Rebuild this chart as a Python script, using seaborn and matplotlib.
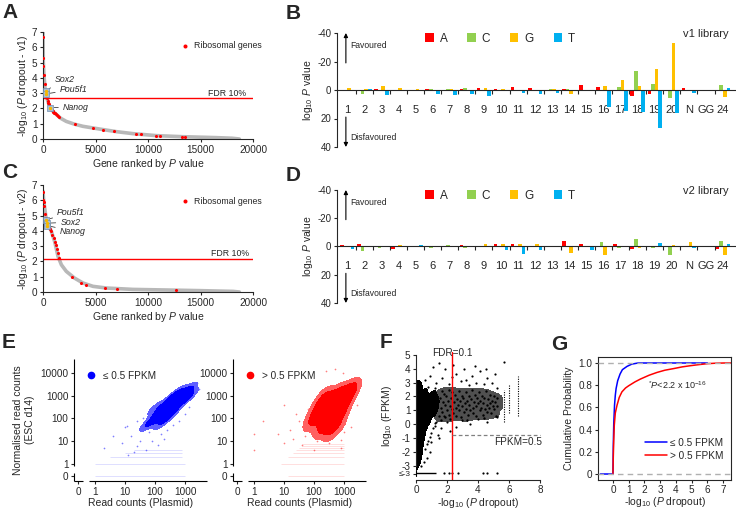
import numpy as np
import pandas as pd
import matplotlib
matplotlib.use('Agg')
import matplotlib.pyplot as plt
from matplotlib.lines import Line2D
from matplotlib.colors import ListedColormap
import seaborn as sns

sns.set_style('ticks')
plt.rcParams['font.family'] = ['Liberation Sans', 'DejaVu Sans']
plt.rcParams.update({
    'axes.unicode_minus': False,
    'mathtext.fontset': 'custom',
    'mathtext.rm': 'Liberation Sans',
    'mathtext.it': 'Liberation Sans:italic',
    'mathtext.bf': 'Liberation Sans:bold',
    'font.size': 7.5,
    'axes.linewidth': 0.8,
    'xtick.major.width': 0.8, 'ytick.major.width': 0.8,
    'xtick.major.size': 2.5, 'ytick.major.size': 2.5,
    'xtick.labelsize': 7.2, 'ytick.labelsize': 7.2,
    'xtick.major.pad': 1.5, 'ytick.major.pad': 1.5,
    'axes.labelsize': 7.5, 'axes.labelpad': 1.5,
})

# ---------------- data ----------------
# A / C: -log10 P dropout along gene rank
rank_v1 = [0, 30, 100, 220, 400, 630, 900, 1270, 1700, 2220, 3000, 3800, 5400, 7000, 8570, 10800, 13300, 16500, 18000, 18700]
score_v1 = [7.0, 5.0, 4.1, 3.1, 2.6, 2.13, 1.85, 1.6, 1.35, 1.15, 0.97, 0.83, 0.65, 0.48, 0.35, 0.22, 0.15, 0.09, 0.05, 0.0]
ribo_rank_v1 = [5, 10, 40, 80, 150, 260, 330, 380, 450, 520, 560, 600, 680, 720, 780, 850, 920, 980, 1050, 1130,
                1200, 1300, 1400, 1500, 3000, 4760, 5700, 6800, 8900, 9360, 10800, 11100, 13200, 13500]
ribo_score_v1 = [6.67, 5.3, 4.75, 4.2, 3.6, 3.0, 2.8, 2.65, 2.5, 2.35, 2.3, 2.2, 2.07, 2.03, 1.96, 1.9, 1.83, 1.78, 1.73, 1.68,
                 1.63, 1.58, 1.52, 1.46, 0.97, 0.72, 0.61, 0.5, 0.33, 0.31, 0.22, 0.21, 0.15, 0.15]
genes_v1 = ['Sox2', 'Pou5f1', 'Nanog']
gene_rank_v1 = [250, 290, 680]
gene_score_v1 = [3.15, 2.95, 2.06]
gene_text_v1 = [(1100, 3.9), (1600, 3.25), (1900, 2.05)]
fdr_v1 = 2.66

rank_v2 = [0, 50, 160, 320, 500, 800, 1110, 1430, 1750, 2220, 3000, 3800, 4760, 6030, 8570, 11750, 14900, 18100, 18700]
score_v2 = [6.6, 6.1, 5.5, 4.7, 4.4, 3.96, 3.3, 2.33, 1.78, 1.35, 0.91, 0.59, 0.37, 0.26, 0.17, 0.13, 0.09, 0.04, 0.0]
ribo_rank_v2 = [5, 15, 60, 120, 200, 280, 400, 500, 600, 700, 800, 900, 1000, 1100, 1200, 1300, 1400, 1500,
                2800, 3650, 4100, 5870, 7000, 12700]
ribo_score_v2 = [6.52, 6.0, 5.9, 5.6, 5.1, 4.85, 4.55, 4.4, 4.25, 4.1, 3.96, 3.75, 3.55, 3.3, 3.05, 2.8, 2.55, 2.2,
                 1.0, 0.6, 0.45, 0.28, 0.22, 0.1]
genes_v2 = ['Pou5f1', 'Sox2', 'Nanog']
gene_rank_v2 = [300, 350, 400]
gene_score_v2 = [4.72, 4.5, 4.35]
gene_text_v2 = [(1350, 5.2), (1650, 4.57), (1600, 3.96)]
fdr_v2 = 2.16

# B / D: log10 P per position and base (negative = favoured)
positions = [str(i) for i in range(1, 21)] + ['N', 'GG', '24']
bases = ['A', 'C', 'G', 'T']
base_colors = ['#ff0000', '#92d050', '#ffc000', '#00b0f0']
v1_A = [0, 0, -0.5, 0, 0, -0.5, 0, -0.5, -1.5, -0.5, -2, -1.5, 0, -1, -3.5, -2, 0.7, 4.2, 2.8, 0, -1.2, 0, 0.5]
v1_C = [0, 2.5, 0, 0, 0, -0.5, -1, -1.5, 0, 1, 0, 0, -0.5, -0.5, 0, 0, -2.4, -13.4, -4.2, 5.4, 0, 0, -3.5]
v1_G = [-1.5, -0.5, -3, -1.5, -0.5, 0, -1, 0, -1.5, -0.5, 0, 0, -0.5, 2.5, 0, -2.8, -7, -2.8, -14.8, -33, 0, 0, 5.2]
v1_T = [1, -0.5, 3.5, 1, 1, 3, 3.5, 2.5, 4.5, 0, 2, 2.5, 2, 0, 1, 12, 15, 15.3, 27, 16, 2.4, 0, -1.2]
v2_A = [-1, -1.5, 0, 2, 0.5, -0.5, 0.5, -1, 0.5, -1.5, -2, 0, 0, -3.8, -2, -0.5, -1.5, 1.6, 0, -0.7, 0.5, 0, 1.5]
v2_C = [0, 3, 1, 0, 0, 1, -1, 1, 0.5, 0.5, 0, 0, 0, 0, 0, -3, 1, -5.4, 1, 6.3, 0, 0, -4]
v2_G = [-0.5, 0, 0, -1, 0, 0, 0, 0, -2, -1.5, -2, -2, 0, 4.5, 0, 6, 0, 1, 0, -1.4, -3, 0, 6]
v2_T = [2, 0, 0, 0, -1, 0, 0.5, 0, 0, 2.5, 5.2, 2.5, 0.5, 0, 2.5, 0, -0.5, 0, -2.6, -0.5, 1, 0, -1.5]

# E: log10 read counts, plasmid (x) vs ESC d14 (y)
zero_pos = -0.55  # where a count of 0 sits on the broken log axes
blue_core_x = [1.75, 1.9, 2.0, 2.1, 2.15, 2.25, 2.3, 2.35, 2.4, 2.45, 2.5, 2.55, 2.6, 2.6, 2.65, 2.7, 2.75, 2.8,
               2.85, 2.9, 2.95, 3.0, 3.05, 3.1, 3.15, 2.2, 2.4, 2.5, 2.0, 2.7]
blue_core_y = [1.75, 1.85, 2.15, 1.95, 2.35, 2.1, 2.5, 2.25, 2.7, 2.4, 2.85, 2.55, 2.3, 2.75, 2.95, 2.6, 2.85, 3.05,
               2.7, 2.95, 3.15, 2.85, 3.1, 3.25, 3.0, 1.8, 2.0, 2.2, 2.45, 3.1]
blue_sparse_x = [1.08, 1.41, 1.2, 1.5, 1.6, 1.3, 0.9, 1.7, 1.9, 2.2, 2.4, 2.8, 3.0, 3.3, 3.39, 3.25, 1.0, 1.6, 1.8, 2.1,
                 0.6, 1.1, 2.6, 3.1, 1.4, 2.0, 0.3, 1.9, 2.3, 3.45]
blue_sparse_y = [1.64, 0.76, 1.2, 1.0, 1.5, 0.5, 0.9, 0.6, 1.0, 1.3, 1.5, 1.9, 2.2, 3.5, 3.56, 3.35, 1.6, 2.0, 1.4, 0.8,
                 1.2, 0.4, 1.7, 2.5, 1.9, 1.7, 0.7, 2.3, 1.1, 3.3]
blue_row_count = [0, 1, 2, 3, 4]
blue_row_lo = [0.0, 0.0, 0.5, 1.0, 1.3]
blue_row_hi = [3.0, 3.0, 2.9, 2.9, 2.9]

red_core_x = [1.88, 2.0, 2.1, 2.2, 2.25, 2.3, 2.4, 2.45, 2.5, 2.55, 2.6, 2.65, 2.7, 2.75, 2.8, 2.85, 2.9, 2.95, 3.0,
              3.05, 3.1, 3.2, 3.3, 2.2, 2.4, 2.6, 2.8, 2.9, 2.54, 2.35]
red_core_y = [1.8, 2.1, 2.5, 1.9, 2.3, 2.7, 2.1, 2.5, 2.9, 1.8, 2.4, 2.7, 3.0, 2.2, 2.6, 2.9, 3.2, 2.5, 2.8, 3.1,
              2.9, 3.2, 3.4, 1.5, 1.6, 1.9, 1.7, 2.2, 1.35, 3.0]
red_sparse_x = [1.2, 1.5, 1.7, 1.9, 2.1, 2.21, 2.87, 3.0, 1.0, 1.3, 1.6, 2.0, 2.5, 2.9, 3.2, 3.35, 2.7, 2.95, 0.8, 1.4,
                1.8, 2.3, 2.6, 3.1, 0.0, 0.0, 0.3, 1.0, 2.4, 3.4]
red_sparse_y = [1.5, 1.9, 1.2, 1.6, 1.0, 1.2, 1.05, 1.4, 0.9, 1.1, 0.8, 0.6, 0.9, 0.7, 1.6, 3.5, 4.2, 4.0, 1.3, 2.2,
                2.4, 2.9, 3.4, 3.6, 1.3, 0.6, 1.9, 2.6, 4.1, 2.6]
red_row_count = [0, 1, 2, 3, 4, 5, 6, 7]
red_row_lo = [1.15, 0.9, 1.15, 1.3, 1.4, 1.5, 1.6, 1.6]
red_row_hi = [2.97, 2.97, 3.0, 2.97, 2.97, 2.97, 2.97, 2.97]

# F: -log10 P dropout vs log10 FPKM
f_dense_x = [0.05, 0.05, 0.05, 0.05, 0.05, 0.05, 0.05, 0.05, 0.05, 0.05, 0.05, 0.05,
             0.25, 0.25, 0.25, 0.25, 0.25, 0.25, 0.25, 0.25, 0.25,
             0.5, 0.6, 0.8, 1.0, 1.2, 1.4, 0.6, 0.9, 1.2, 0.8, 0.4, 0.5, 0.7]
f_dense_y = [-2.8, -2.3, -1.8, -1.3, -0.8, -0.3, 0.2, 0.7, 1.2, 1.7, 2.2, 2.7,
             -2.3, -1.7, -1.1, -0.5, 0.1, 0.7, 1.3, 1.9, 2.5,
             1.0, 1.6, 1.2, 1.8, 1.0, 1.5, 2.2, 0.6, 2.0, 1.4, -1.0, -0.3, 0.3]
f_band_x = [1.5, 1.55, 1.6, 1.65, 1.7, 1.75, 1.8, 1.85, 1.9, 1.95, 2.0, 2.05, 2.1, 2.15, 2.2, 2.25, 2.3, 2.35,
            2.4, 2.45, 2.5, 2.55, 2.6, 2.65, 2.7, 2.75, 2.8, 2.85, 2.9, 2.95, 3.0, 3.05, 3.1, 3.15, 3.2, 3.25,
            3.3, 3.35, 3.4, 3.45, 3.5, 3.55, 3.6, 3.65, 3.7, 3.75, 3.8, 3.85, 3.9, 3.95, 4.0, 4.05, 4.1, 4.15,
            4.2, 4.25, 4.3, 4.35, 4.4, 4.45, 4.5, 4.55, 4.6, 4.65, 4.7, 4.75, 4.8, 4.85, 4.9, 4.95, 5.0, 5.05,
            5.1, 5.15, 5.2, 5.2, 1.6, 2.2, 3.3, 4.4]
f_band_y = [0.6, 1.9, 1.2, 2.4, 0.9, 1.6, 2.2, 0.5, 1.4, 2.0, 1.0, 1.7, 2.5, 0.7, 1.3, 1.9, 1.1, 2.3,
            0.8, 1.6, 2.1, 1.2, 0.6, 1.8, 1.4, 2.4, 1.0, 1.7, 0.5, 2.0, 1.3, 1.9, 0.9, 1.5, 2.3, 1.1,
            1.7, 0.7, 2.0, 1.4, 1.0, 1.8, 2.5, 1.2, 0.8, 1.6, 2.1, 1.3, 0.6, 1.9, 1.5, 2.3, 1.0, 1.7,
            1.2, 2.0, 0.7, 1.5, 1.9, 1.1, 2.4, 1.4, 0.9, 1.8, 1.2, 2.1, 1.5, 0.8, 1.7, 1.3, 2.0, 1.1,
            1.6, 0.6, 1.9, 1.3, 0.3, 0.4, 0.3, 0.45]
f_sparse_x = [0.6, 0.9, 1.1, 1.3, 1.5, 1.7, 1.9, 2.1, 2.4, 2.6, 2.9, 3.1, 3.4, 3.6, 3.9, 4.1, 4.4, 4.6, 4.9, 5.1,
              5.2, 0.8, 1.2, 2.3, 3.2, 4.5, 5.7, 3.8,
              1.2, 1.6, 2.0, 2.6, 3.0, 3.5, 4.0, 4.6, 5.2, 1.4, 1.0, 0.9, 0.7, 1.5, 0.5, 0.3, 2.2, 1.8,
              0.6, 0.8, 1.0, 1.2, 0.7, 0.9, 1.1, 1.3]
f_sparse_y = [3.2, 3.5, 4.1, 3.0, 4.4, 3.3, 4.0, 2.9, 4.3, 3.6, 3.1, 4.0, 2.8, 3.5, 3.0, 3.8, 2.9, 3.3, 3.0, 3.6,
              2.6, 2.7, 2.6, 3.4, 3.2, 4.0, 4.5, 4.2,
              0.1, -0.3, 0.2, -0.2, 0.3, 0.0, 0.4, 0.2, 0.5, -0.8, -1.3, -2.0, -2.4, -1.0, -2.7, -3.0, -0.5, 0.6,
              -1.8, -1.2, -0.6, -0.1, -1.4, -0.9, -0.3, 0.2]
f_col_x = [5.7, 6.0, 6.6]
f_col_lo = [0.2, 0.8, 0.6]
f_col_hi = [2.5, 2.8, 3.5]
f_floor_x = [1.8, 2.1, 2.3, 2.7, 4.3, 4.6, 5.2]
f_floor_end = 1.3
fdr_f = 2.34
fpkm_cut = -0.75

# G: cumulative probability of -log10 P dropout
g_low_x = [-0.8, 0, 0.02, 0.05, 0.1, 0.15, 0.2, 0.3, 0.45, 0.6, 0.9, 1.2, 1.6, 6.0]
g_low_y = [0, 0, 0.25, 0.45, 0.62, 0.71, 0.77, 0.84, 0.9, 0.94, 0.97, 0.99, 1.0, 1.0]
g_high_x = [0, 0.02, 0.05, 0.085, 0.15, 0.26, 0.4, 0.57, 0.8, 1.0, 1.4, 1.74, 2.3, 2.8, 3.3, 3.87, 4.4, 4.94,
            5.5, 6.0, 6.5, 7.06, 7.5]
g_high_y = [0, 0.15, 0.3, 0.44, 0.55, 0.62, 0.69, 0.74, 0.775, 0.795, 0.83, 0.855, 0.89, 0.915, 0.935, 0.95,
            0.965, 0.976, 0.986, 0.994, 0.998, 1.0, 1.0]

# ---------------- layout ----------------
W, H = 736, 509
fig = plt.figure(figsize=(W / 100, H / 100), dpi=100)


def box(l, t, r, b):
    return [l / W, 1 - b / H, (r - l) / W, (b - t) / H]


def dropout_panel(ax, rank, score, rr, rs, genes, grank, gscore, gtext, fdr, fdr_ty, fdr_tx, ylabel, leg_y):
    sns.lineplot(x=rank, y=score, color='#b8b8b8', lw=2.6, ax=ax, estimator=None, sort=False)
    sns.scatterplot(x=rr, y=rs, color='red', s=5, linewidth=0, ax=ax, label='Ribosomal genes', zorder=3)
    ax.axhline(fdr, color='red', lw=1)
    ax.text(fdr_tx, fdr_ty, 'FDR 10%', ha='right', va='center', fontsize=6.3)
    sns.scatterplot(x=grank, y=gscore, marker='s', s=16, color='#a9bfd6', edgecolor='#7190b0',
                    linewidth=0.5, ax=ax, legend=False, zorder=4)
    sns.scatterplot(x=grank, y=gscore, s=6, color='#f5b800', linewidth=0, ax=ax, legend=False, zorder=5)
    for name, (tx, ty), px, py in zip(genes, gtext, grank, gscore):
        ax.annotate(name, xy=(px, py), xytext=(tx, ty), style='italic', ha='left', va='center', fontsize=6.3,
                    arrowprops=dict(arrowstyle='-', lw=0.6, color='#404040', shrinkA=1, shrinkB=3))
    ax.set_xlim(0, 20000)
    ax.set_ylim(0, 7)
    ax.set_xticks([0, 5000, 10000, 15000, 20000])
    ax.set_yticks(range(8))
    ax.set_xlabel('Gene ranked by $P$ value')
    ax.set_ylabel(ylabel)
    sns.despine(ax=ax)
    ax.legend(loc='center left', bbox_to_anchor=(0.615, leg_y), frameon=False, handletextpad=0.0,
              borderpad=0, fontsize=6.3, markerscale=1.3)


def motif_panel(ax, a, c, g, t, title):
    df = pd.DataFrame({'position': positions * 4,
                       'base': [b for b in bases for _ in positions],
                       'log10P': a + c + g + t})
    sns.barplot(data=df, x='position', y='log10P', hue='base', order=positions, hue_order=bases,
                palette=base_colors, width=0.84, errorbar=None, saturation=1, linewidth=0, ax=ax)
    ax.set_xlim(-0.6, 22.7)
    ax.set_ylim(40, -40)
    ax.set_yticks([-40, -20, 0, 20, 40])
    ax.spines[['top', 'right']].set_visible(False)
    ax.spines['left'].set_bounds(-40, 40)
    ax.spines['bottom'].set_position(('data', 0))
    ax.set_xticks(range(len(positions)), positions)
    ax.set_xticks(np.arange(0.5, 22, 1), minor=True)
    ax.tick_params(axis='x', which='major', length=0, pad=10.5, labelsize=8)
    ax.tick_params(axis='x', which='minor', length=3, width=0.8)
    ax.set_xlabel('')
    ax.set_ylabel('log$_{10}$ $P$ value', labelpad=2)
    ax.tick_params(axis='y', labelsize=7)
    arr = dict(arrowstyle='-|>', color='black', lw=0.8, mutation_scale=6, shrinkA=0, shrinkB=0)
    ax.annotate('', xy=(-0.08, -40), xytext=(-0.08, -19), arrowprops=arr)
    ax.annotate('', xy=(-0.08, 40), xytext=(-0.08, 19), arrowprops=arr)
    ax.text(0.15, -31, 'Favoured', fontsize=6.2, va='center')
    ax.text(0.15, 33, 'Disfavoured', fontsize=6.2, va='center')
    ax.text(0.985, 0.99, title, transform=ax.transAxes, ha='right', va='center', fontsize=8)
    sns.move_legend(ax, 'center', bbox_to_anchor=(0.41, 0.95), ncol=4, frameon=False, title=None,
                    handlelength=0.7, handleheight=0.7, handletextpad=0.5, columnspacing=1.7, fontsize=8.5)


def to_axis(counts):
    return [np.log10(c) if c > 0 else zero_pos for c in counts]


def density(ax, xs, ys, levels, colors, bw):
    pts = pd.DataFrame({'x': xs, 'y': ys})
    sns.kdeplot(data=pts, x='x', y='y', fill=True, levels=levels, cmap=ListedColormap(colors),
                bw_adjust=bw, ax=ax)


def read_panel(ax, cx, cy, sx, sy, rc, rlo, rhi, color, light, label, show_ylabel):
    xl, xr, yb, yt = -0.68, 3.71, -0.77, 4.62
    ax.hlines(to_axis(rc), rlo, rhi, color=color, lw=0.5, alpha=0.18)
    sns.scatterplot(x=sx, y=sy, color=color, s=1.5, alpha=0.5, linewidth=0, ax=ax)
    density(ax, cx, cy, [0.04, 0.18, 1], [light, color], 0.85)
    ax.set_xlim(xl, xr)
    ax.set_ylim(yb, yt)
    for s in ax.spines.values():
        s.set_visible(False)
    seg = dict(color='black', lw=0.8, clip_on=False, solid_capstyle='butt')
    ax.plot([xl, xl], [-0.1, yt], **seg)
    ax.plot([xl, xl], [-0.42, yb], **seg)
    ax.plot([xl, -0.38], [yb, yb], **seg)
    ax.plot([-0.18, xr], [yb, yb], **seg)
    ax.set_xticks(to_axis([0, 1, 10, 100, 1000]), ['0', '1', '10', '100', '1000'])
    ax.set_yticks(to_axis([0, 1, 10, 100, 1000, 10000]), ['0', '1', '10', '100', '1000', '10000'])
    ax.set_xlabel('Read counts (Plasmid)', labelpad=1)
    ax.set_ylabel('Normalised read counts\n(ESC d14)' if show_ylabel else '', labelpad=4)
    h = Line2D([], [], marker='o', ls='', color=color, markersize=4.5)
    ax.legend(handles=[h], labels=[label], loc='upper left', bbox_to_anchor=(0.0, 0.96), frameon=False,
              handletextpad=0.2, borderpad=0.2, fontsize=7.2)


# A and C
axA = fig.add_axes(box(43, 32, 253, 139))
dropout_panel(axA, rank_v1, score_v1, ribo_rank_v1, ribo_score_v1, genes_v1, gene_rank_v1, gene_score_v1,
              gene_text_v1, fdr_v1, 2.97, 19300, '-log$_{10}$ ($P$ dropout - v1)', 0.87)
axC = fig.add_axes(box(43, 185, 253, 292))
dropout_panel(axC, rank_v2, score_v2, ribo_rank_v2, ribo_score_v2, genes_v2, gene_rank_v2, gene_score_v2,
              gene_text_v2, fdr_v2, 2.5, 19600, '-log$_{10}$ ($P$ dropout - v2)', 0.85)

# B and D
axB = fig.add_axes(box(337, 33, 735, 147))
motif_panel(axB, v1_A, v1_C, v1_G, v1_T, 'v1 library')
axD = fig.add_axes(box(337, 190, 735, 303))
motif_panel(axD, v2_A, v2_C, v2_G, v2_T, 'v2 library')

# E
axE1 = fig.add_axes(box(74, 359, 207, 481))
read_panel(axE1, blue_core_x, blue_core_y, blue_sparse_x, blue_sparse_y, blue_row_count, blue_row_lo,
           blue_row_hi, '#0000ff', '#6060ff', '≤ 0.5 FPKM', True)
axE2 = fig.add_axes(box(233, 359, 366, 481))
read_panel(axE2, red_core_x, red_core_y, red_sparse_x, red_sparse_y, red_row_count, red_row_lo,
           red_row_hi, '#ff0000', '#ff6060', '> 0.5 FPKM', False)

# F
axF = fig.add_axes(box(416, 352, 540, 479.5))
density(axF, f_band_x, f_band_y, [0.08, 1], ['#505050'], 0.7)
sns.scatterplot(x=f_band_x, y=f_band_y, color='black', s=3, linewidth=0, ax=axF)
density(axF, f_dense_x, f_dense_y, [0.12, 1], ['black'], 0.6)
sns.scatterplot(x=f_sparse_x, y=f_sparse_y, color='black', s=2.5, linewidth=0, ax=axF)
axF.vlines(f_col_x, f_col_lo, f_col_hi, colors='black', lw=0.8, linestyles=(0, (1, 1.2)))
axF.hlines(-3.5, 0, f_floor_end, colors='black', lw=1)
sns.scatterplot(x=f_floor_x, y=[-3.5] * len(f_floor_x), color='black', s=2.5, linewidth=0, ax=axF)
axF.axvline(fdr_f, color='red', lw=1)
axF.hlines(fpkm_cut, fdr_f, 8, colors='#808080', lw=0.9, linestyles=(0, (3, 2)), clip_on=False)
axF.text(fdr_f, 5.1, 'FDR=0.1', ha='center', va='center', fontsize=7.2)
axF.text(8.15, -1.25, 'FPKM=0.5', ha='right', va='center', fontsize=7.2)
axF.set_xlim(0, 8)
axF.set_ylim(-3.97, 5.2)
axF.spines[['top', 'right']].set_visible(False)
axF.spines['left'].set_bounds(-3, 5)
axF.plot([0, 0], [-3.3, -3.75], color='black', lw=0.8, clip_on=False)
axF.set_xticks([0, 2, 4, 6, 8])
axF.set_yticks([5, 4, 3, 2, 1, 0, -1, -2, -3, -3.55],
               ['5', '4', '3', '2', '1', '0', '-1', '-2', '-3', '≤-3'])
axF.get_yticklabels()[-1].set_fontsize(6)
axF.set_xlabel('-log$_{10}$ ($P$ dropout)', labelpad=1)
axF.set_ylabel('log$_{10}$ (FPKM)', labelpad=3)

# G
axG = fig.add_axes(box(598, 357, 731, 480))
sns.lineplot(x=g_low_x, y=g_low_y, color='#0000ff', lw=1.1, ax=axG, estimator=None, sort=False,
             label='≤ 0.5 FPKM')
sns.lineplot(x=g_high_x, y=g_high_y, color='#ff0000', lw=1.1, ax=axG, estimator=None, sort=False,
             label='> 0.5 FPKM')
for yy in (0, 1):
    axG.axhline(yy, color='#b0b0b0', lw=1, ls=(0, (4, 3)), zorder=4)
axG.text(2.2, 0.8, r'$^{*}P$<2.2 x 10$^{-16}$', fontsize=6.5, va='center')
axG.set_xlim(-0.95, 7.5)
axG.set_ylim(-0.054, 1.054)
axG.set_xticks(range(8))
axG.set_yticks([0, 0.2, 0.4, 0.6, 0.8, 1.0], ['0', '0.2', '0.4', '0.6', '0.8', '1.0'])
axG.tick_params(axis='x', pad=1)
axG.set_xlabel('-log$_{10}$ ($P$ dropout)', labelpad=0)
axG.set_ylabel('Cumulative Probability', labelpad=3)
axG.legend(loc='lower right', bbox_to_anchor=(1.0, 0.1), frameon=False, handlelength=2.2,
           handletextpad=0.4, borderpad=0.2, labelspacing=0.3, fontsize=7.2)

# panel letters
for letter, (px, py) in zip('ABCDEFG', [(2, 3), (286, 4), (2, 163), (286, 166), (2, 333), (380, 333), (551, 335)]):
    fig.text(px / W, 1 - py / H, letter, fontsize=15, fontweight='bold', va='top', ha='left')

fig.savefig('out.png', dpi=100)
